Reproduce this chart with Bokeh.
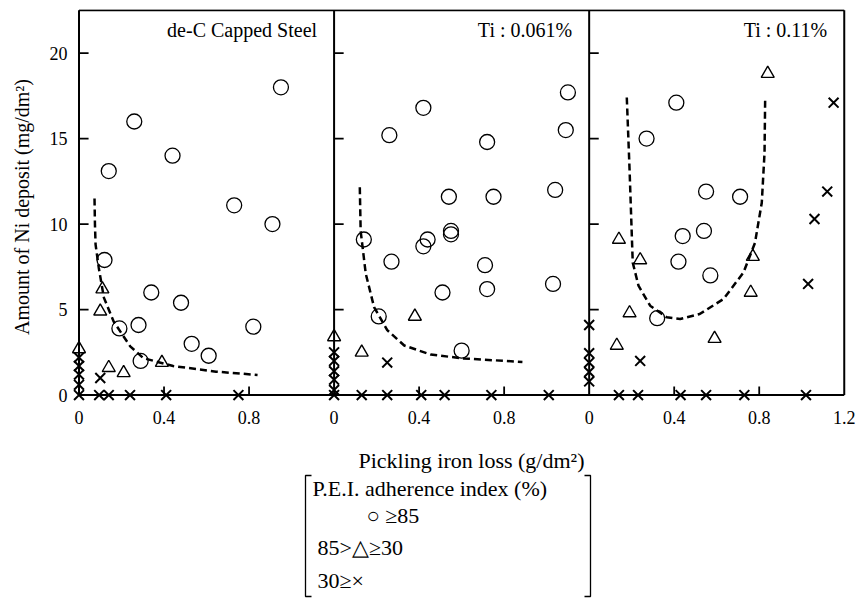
from bokeh.plotting import figure
from bokeh.layouts import column
from bokeh.models import Range1d, FixedTicker
from bokeh.embed import file_html
from bokeh.resources import INLINE
from bokeh.core.properties import value

# ---------------- data ----------------
panel_titles = ["de-C Capped Steel", "Ti : 0.061%", "Ti : 0.11%"]
panel_span = 1.2                      # x extent of each panel (g/dm2)
panel_top = 22.5                      # y extent of each panel (mg/dm2)
x_tick_values = [0, 0.4, 0.8]
x_tick_labels = ["0", "0.4", "0.8"]
last_tick_value = 1.2
last_tick_label = "1.2"
y_tick_values = [0, 5, 10, 15, 20]
y_tick_labels = ["0", "5", "10", "15", "20"]

x_title = "Pickling iron loss (g/dm²)"
y_title = "Amount of Ni deposit (mg/dm²)"
legend_lines = ["P.E.I. adherence index (%)", "○ ≥85", "85>△≥30", "30≥×"]

# Panel 1 : de-C capped steel
p1_circle_x = [0.95, 0.26, 0.44, 0.14, 0.73, 0.91, 0.12, 0.34, 0.48, 0.28, 0.19, 0.82, 0.53, 0.61, 0.29]
p1_circle_y = [18.0, 16.0, 14.0, 13.1, 11.1, 10.0, 7.9, 6.0, 5.4, 4.1, 3.9, 4.0, 3.0, 2.3, 2.0]
p1_tri_x = [0.0, 0.11, 0.10, 0.14, 0.21, 0.39]
p1_tri_y = [2.7, 6.2, 4.9, 1.6, 1.3, 1.9]
p1_cross_x = [0.10, 0.0, 0.0, 0.0, 0.0, 0.0, 0.095, 0.14, 0.24, 0.41, 0.75]
p1_cross_y = [1.0, 0.6, 1.2, 1.7, 2.2, 0.0, 0.0, 0.0, 0.0, 0.0, 0.0]
p1_curve_x = [0.073, 0.075, 0.078, 0.093, 0.117, 0.163, 0.241, 0.303, 0.443, 0.645, 0.84]
p1_curve_y = [11.5, 10.0, 8.8, 7.45, 5.7, 4.3, 2.85, 2.16, 1.7, 1.37, 1.18]

# Panel 2 : Ti 0.061 %
p2_circle_x = [1.10, 0.42, 0.26, 0.72, 1.09, 0.54, 0.75, 1.04, 0.14, 0.44, 0.42, 0.55, 0.55, 0.27, 0.71, 0.72, 0.51, 1.03, 0.21, 0.60]
p2_circle_y = [17.7, 16.8, 15.2, 14.8, 15.5, 11.6, 11.6, 12.0, 9.1, 9.1, 8.7, 9.6, 9.4, 7.8, 7.6, 6.2, 6.0, 6.5, 4.6, 2.6]
p2_tri_x = [0.38, 0.13, 0.0]
p2_tri_y = [4.6, 2.5, 3.4]
p2_cross_x = [0.25, 0.0, 0.0, 0.0, 0.0, 0.0, 0.0, 0.13, 0.25, 0.41, 0.52, 0.74, 1.01]
p2_cross_y = [1.9, 0.3, 0.9, 1.4, 2.0, 2.5, 0.0, 0.0, 0.0, 0.0, 0.0, 0.0, 0.0]
p2_curve_x = [0.121, 0.125, 0.149, 0.188, 0.25, 0.33, 0.455, 0.61, 0.886]
p2_curve_y = [12.15, 9.6, 7.1, 5.15, 3.8, 2.9, 2.37, 2.14, 1.94]

# Panel 3 : Ti 0.11 %
p3_circle_x = [0.41, 0.27, 0.55, 0.71, 0.54, 0.44, 0.42, 0.57, 0.32]
p3_circle_y = [17.1, 15.0, 11.9, 11.6, 9.6, 9.3, 7.8, 7.0, 4.5]
p3_tri_x = [0.84, 0.14, 0.24, 0.77, 0.76, 0.19, 0.13, 0.59]
p3_tri_y = [18.8, 9.1, 7.9, 8.1, 6.0, 4.8, 2.9, 3.3]
p3_cross_x = [1.15, 1.12, 1.06, 1.03, 0.24, 0.0, 0.0, 0.0, 0.0, 0.0, 0.14, 0.23, 0.43, 0.55, 0.73, 1.02]
p3_cross_y = [17.1, 11.9, 10.3, 6.5, 2.0, 0.8, 1.35, 1.9, 2.45, 4.1, 0.0, 0.0, 0.0, 0.0, 0.0, 0.0]
p3_curve_x = [0.177, 0.19, 0.205, 0.232, 0.287, 0.365, 0.428, 0.52, 0.632, 0.726, 0.78, 0.812, 0.825, 0.828]
p3_curve_y = [17.4, 13.2, 7.75, 6.4, 5.23, 4.55, 4.45, 4.74, 5.62, 7.17, 8.9, 11.25, 14.17, 17.4]

panels = [
    (p1_circle_x, p1_circle_y, p1_tri_x, p1_tri_y, p1_cross_x, p1_cross_y, p1_curve_x, p1_curve_y),
    (p2_circle_x, p2_circle_y, p2_tri_x, p2_tri_y, p2_cross_x, p2_cross_y, p2_curve_x, p2_curve_y),
    (p3_circle_x, p3_circle_y, p3_tri_x, p3_tri_y, p3_cross_x, p3_cross_y, p3_curve_x, p3_curve_y),
]

SERIF = "Liberation Serif"
n_panels = len(panels)
total_span = panel_span * n_panels
FW, BL, BR = 778, 70, 8

# ---------------- main figure ----------------
p = figure(x_range=Range1d(-0.04, total_span + 0.02), y_range=Range1d(-0.55, panel_top + 0.05),
           frame_width=FW, frame_height=395,
           min_border_left=BL, min_border_right=BR, min_border_top=9, min_border_bottom=30,
           output_backend="svg", toolbar_location=None)
p.outline_line_color = None
p.grid.visible = False
p.background_fill_color = "white"
p.border_fill_color = "white"

# ticks/labels
gticks = []
overrides = {}
for k in range(n_panels):
    off = panel_span * k
    for t, lab in zip(x_tick_values, x_tick_labels):
        g = float(round(off + t, 3))
        gticks.append(g)
        overrides[g] = lab
g_last = float(round(panel_span * (n_panels - 1) + last_tick_value, 3))
gticks.append(g_last)
overrides[g_last] = last_tick_label

p.xaxis.ticker = FixedTicker(ticks=gticks)
p.xaxis.major_label_overrides = overrides
p.yaxis.ticker = FixedTicker(ticks=y_tick_values)
p.yaxis.major_label_overrides = {float(v): s for v, s in zip(y_tick_values, y_tick_labels)}
for ax in (p.xaxis, p.yaxis):
    ax.axis_line_color = None
    ax.major_tick_in = 0
    ax.major_tick_out = 0
    ax.minor_tick_line_color = None
    ax.major_label_text_font = SERIF
    ax.major_label_text_font_size = "18px"
    ax.major_label_text_color = "black"
p.xaxis.major_label_standoff = 6
p.yaxis.major_label_standoff = 3
p.yaxis.axis_label = y_title
p.yaxis.axis_label_text_font = SERIF
p.yaxis.axis_label_text_font_size = "20px"
p.yaxis.axis_label_text_font_style = "normal"
p.yaxis.axis_label_text_color = "black"
p.yaxis.axis_label_standoff = 14

# panel frames (axes at x=0 of every panel, baseline at y=0)
frame_xs, frame_ys = [], []
for k in range(n_panels):
    off = panel_span * k
    frame_xs.append([off, off])
    frame_ys.append([0, panel_top])
frame_xs.append([total_span, total_span]); frame_ys.append([0, panel_top])
frame_xs.append([0, total_span]); frame_ys.append([0, 0])
frame_xs.append([0, total_span]); frame_ys.append([panel_top, panel_top])
p.multi_line(frame_xs, frame_ys, line_color="black", line_width=2)

# inward ticks
tick_len_x = 0.045
tick_len_y = 0.5
tx0, tx1, ty0, ty1 = [], [], [], []
for k in range(n_panels):
    off = panel_span * k
    for v in y_tick_values[1:]:
        tx0.append(off); tx1.append(off + tick_len_x); ty0.append(v); ty1.append(v)
    for v in x_tick_values[1:]:
        tx0.append(off + v); tx1.append(off + v); ty0.append(0); ty1.append(tick_len_y)
p.segment(tx0, ty0, tx1, ty1, line_color="black", line_width=1.8)

# data
for k, (cx, cy, trx, try_, xx, xy, kx, ky) in enumerate(panels):
    off = panel_span * k
    p.line([x + off for x in kx], ky, line_color="black", line_width=2.5, line_dash="7 4")
    p.scatter([x + off for x in cx], cy, marker="circle", size=15, fill_color=None,
              line_color="black", line_width=1.3)
    p.scatter([x + off for x in trx], try_, marker="triangle", size=13, fill_color=None,
              line_color="black", line_width=1.4)
    p.scatter([x + off for x in xx], xy, marker="x", size=14, line_color="black", line_width=2)

# panel titles
p.text([panel_span * k + 1.12 for k in range(n_panels)], [21.35] * n_panels, text=panel_titles,
       text_align="right", text_baseline="middle", text_font=value(SERIF),
       text_font_size="20px", text_color="black")

# ---------------- bottom: x title + legend (page-pixel coordinates) ----------------
LH = 166
q = figure(x_range=Range1d(BL, BL + FW), y_range=Range1d(LH, 0),
           frame_width=FW, frame_height=LH,
           min_border_left=BL, min_border_right=BR, min_border_top=0, min_border_bottom=0,
           output_backend="svg", toolbar_location=None,
           x_axis_type=None, y_axis_type=None)
q.outline_line_color = None
q.grid.visible = False

q.text([471], [26], text=[x_title], text_align="center", text_baseline="middle",
       text_font=value(SERIF), text_font_size="22px", text_color="black")

q.text([312, 366, 317, 317], [54, 81, 113, 146], text=legend_lines,
       text_align="left", text_baseline="middle",
       text_font=value(SERIF), text_font_size="22px", text_color="black")

# legend brackets
q.multi_line([[311, 305, 305, 311], [584, 590, 590, 584]],
             [[41, 41, 162, 162], [41, 41, 162, 162]],
             line_color="black", line_width=1.3)

layout = column(p, q, spacing=0)
open("out.html", "w").write(file_html(layout, INLINE))
